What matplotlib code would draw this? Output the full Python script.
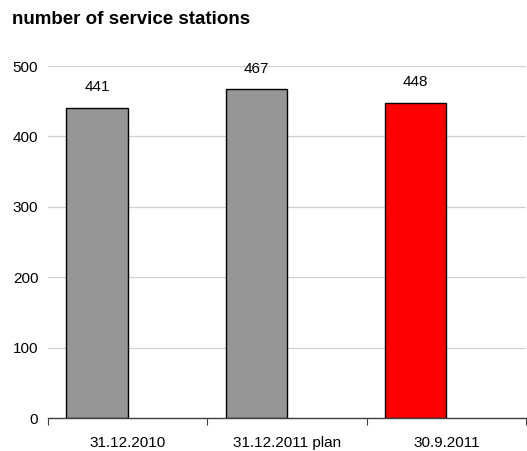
import matplotlib
matplotlib.use("Agg")
import matplotlib.pyplot as plt
import numpy as np

plt.rcParams['font.family'] = ['Liberation Sans', 'DejaVu Sans']

categories = ["31.12.2010", "31.12.2011 plan", "30.9.2011"]
values = [441, 467, 448]
bar_colors = ["#969696", "#969696", "#FF0000"]
y_ticks = [0, 100, 200, 300, 400, 500]

W, H = 527, 451
fig = plt.figure(figsize=(W / 100, H / 100), dpi=100)
ax = fig.add_axes([48 / W, 1 - 418 / H, (526 - 48) / W, (418 - 66) / H])

x = np.arange(len(categories))
bar_w = 0.385
bars = ax.bar(x - bar_w / 2, values, width=bar_w, color=bar_colors,
              edgecolor="black", linewidth=1.0, zorder=3)

for xi, v in zip(x, values):
    ax.annotate(str(v), (xi - bar_w / 2, v), xytext=(0, 9.5),
                textcoords="offset points", ha="center", va="bottom",
                fontsize=11, color="black")

ax.set_xlim(-0.5, len(categories) - 0.5)
ax.set_ylim(0, 500)
ax.set_yticks(y_ticks)
ax.set_yticklabels([str(t) for t in y_ticks], fontsize=11)
ax.yaxis.grid(True, color="#D0D0D0", linewidth=0.9, zorder=0)
ax.tick_params(axis="y", length=0, pad=7)

# category labels at centers, tick marks at category boundaries
ax.set_xticks(x)
ax.set_xticklabels(categories, fontsize=11)
ax.tick_params(axis="x", which="major", length=0, pad=13)
ax.set_xticks(np.arange(-0.5, len(categories), 1.0), minor=True)
ax.tick_params(axis="x", which="minor", length=5, width=0.8, color="#404040", direction="out")

for s in ["top", "right", "left"]:
    ax.spines[s].set_visible(False)
ax.spines["bottom"].set_color("#404040")
ax.spines["bottom"].set_linewidth(1.0)
ax.spines["bottom"].set_zorder(4)

fig.text(12 / W, 1 - 20 / H, "number of service stations", fontsize=13.5,
         fontweight="bold", ha="left", va="center")

fig.savefig("out.png", dpi=100)
